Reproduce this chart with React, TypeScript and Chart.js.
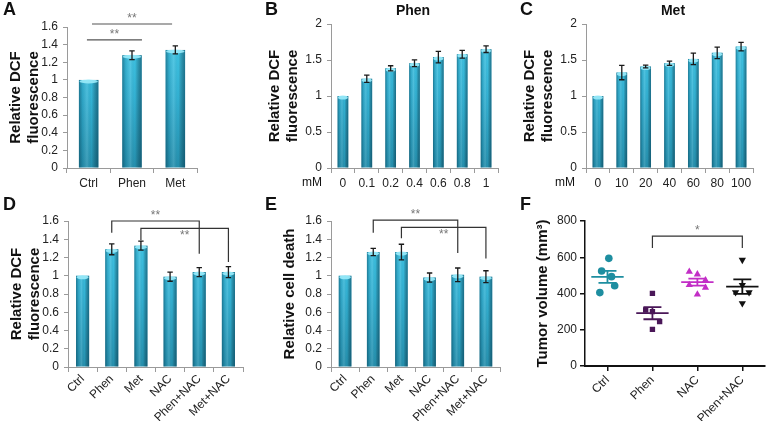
import React, { useEffect, useRef } from 'react';
import { Chart, registerables } from 'chart.js';
Chart.register(...registerables);

const FONT = "'Liberation Sans', Arial, Helvetica, sans-serif";
Chart.defaults.font.family = FONT;

// ---------- Data ----------
const aCategories = ['Ctrl', 'Phen', 'Met'];
const aValues = [1.0, 1.28, 1.34];
const aErrors = [0, 0.05, 0.045];

const bCategories = ['0', '0.1', '0.2', '0.4', '0.6', '0.8', '1'];
const bValues = [1.0, 1.24, 1.385, 1.455, 1.54, 1.58, 1.65];
const bErrors = [0, 0.05, 0.035, 0.046, 0.08, 0.053, 0.046];

const cCategories = ['0', '10', '20', '40', '60', '80', '100'];
const cValues = [1.0, 1.326, 1.41, 1.455, 1.515, 1.6, 1.686];
const cErrors = [0, 0.1, 0.02, 0.03, 0.08, 0.08, 0.06];

const dCategories = ['Ctrl', 'Phen', 'Met', 'NAC', 'Phen+NAC', 'Met+NAC'];
const dValues = [1.0, 1.29, 1.33, 0.99, 1.04, 1.04];
const dErrors = [0, 0.06, 0.05, 0.05, 0.05, 0.06];

const eCategories = ['Ctrl', 'Phen', 'Met', 'NAC', 'Phen+NAC', 'Met+NAC'];
const eValues = [1.0, 1.26, 1.26, 0.98, 1.01, 0.99];
const eErrors = [0, 0.04, 0.085, 0.05, 0.075, 0.065];

const fCategories = ['Ctrl', 'Phen', 'NAC', 'Phen+NAC'];
const fCtrl = [594, 524, 493, 443, 405];
const fCtrlJitter = [0.03, -0.13, 0.09, 0.16, -0.17];
const fPhen = [401, 309, 300, 245, 202];
const fPhenJitter = [0, -0.15, 0, 0.16, 0];
const fNac = [520, 506, 474, 447, 432, 395];
const fNacJitter = [-0.18, 0, 0.18, -0.18, 0.18, 0];
const fPhenNac = [585, 447, 407, 407, 346];
const fPhenNacJitter = [0, 0, -0.15, 0.15, 0];

// significance annotations (category index, value units)
type Sig = { from: number; to: number; y: number; leftDrop?: number; rightDrop?: number; label: string; above: boolean; color: string };
const aSigs: Sig[] = [
  { from: 0.077, to: 1.925, y: 1.634, label: '**', above: true, color: '#555' },
  { from: -0.04, to: 1.23, y: 1.453, label: '**', above: true, color: '#555' },
];
const dSigs: Sig[] = [
  { from: 1, to: 4, y: 1.6, leftDrop: 1.47, rightDrop: 1.24, label: '**', above: true, color: '#333' },
  { from: 2, to: 5, y: 1.52, leftDrop: 1.39, rightDrop: 1.15, label: '**', above: false, color: '#333' },
];
const eSigs: Sig[] = [
  { from: 1, to: 4, y: 1.61, leftDrop: 1.47, rightDrop: 1.25, label: '**', above: true, color: '#333' },
  { from: 2, to: 5, y: 1.53, leftDrop: 1.41, rightDrop: 1.19, label: '**', above: false, color: '#333' },
];
const fSigs: Sig[] = [
  { from: 1, to: 3, y: 717, leftDrop: 651, rightDrop: 651, label: '*', above: true, color: '#333' },
];

const BAR_PCT = 0.45;

function drawSigs(chart: any, sigs: Sig[]) {
  const ctx = chart.ctx;
  const xs = chart.scales.x;
  const ys = chart.scales.y;
  sigs.forEach((s) => {
    const x1 = xs.getPixelForValue(s.from);
    const x2 = xs.getPixelForValue(s.to);
    const y = ys.getPixelForValue(s.y);
    ctx.save();
    ctx.strokeStyle = s.color;
    ctx.lineWidth = 1.2;
    ctx.beginPath();
    if (s.leftDrop !== undefined) {
      ctx.moveTo(x1, ys.getPixelForValue(s.leftDrop));
      ctx.lineTo(x1, y);
    } else {
      ctx.moveTo(x1, y);
    }
    ctx.lineTo(x2, y);
    if (s.rightDrop !== undefined) ctx.lineTo(x2, ys.getPixelForValue(s.rightDrop));
    ctx.stroke();
    ctx.fillStyle = '#777';
    ctx.font = `12px ${FONT}`;
    ctx.textAlign = 'center';
    ctx.textBaseline = s.above ? 'bottom' : 'top';
    ctx.fillText(s.label, (x1 + x2) / 2, y + 1);
    ctx.restore();
  });
}

type Box = { left: number; top: number; width: number; height: number };
type Area = { l: number; t: number; r: number; b: number };

type BarProps = {
  box: Box;
  area: Area;
  cats: string[];
  values: number[];
  errors: number[];
  yMax: number;
  yStep: number;
  yTitle: string | string[];
  titlePad: number;
  sigs: Sig[];
  rotation: number;
};

function BarPanel(p: BarProps) {
  const ref = useRef<HTMLCanvasElement | null>(null);
  useEffect(() => {
    if (!ref.current) return;
    const { box, area } = p;
    const decor = {
      id: 'decor',
      afterDatasetsDraw(chart: any) {
        const ctx = chart.ctx;
        const ys = chart.scales.y;
        const meta = chart.getDatasetMeta(0);
        meta.data.forEach((bar: any, i: number) => {
          const { x, y, width, base } = bar.getProps(['x', 'y', 'width', 'base'], true);
          ctx.save();
          const g = ctx.createLinearGradient(x - width / 2, 0, x + width / 2, 0);
          g.addColorStop(0, 'rgba(0,45,65,0.45)');
          g.addColorStop(0.18, 'rgba(0,45,65,0.12)');
          g.addColorStop(0.42, 'rgba(255,255,255,0.12)');
          g.addColorStop(0.65, 'rgba(0,0,0,0)');
          g.addColorStop(1, 'rgba(0,40,60,0.5)');
          ctx.fillStyle = g;
          ctx.fillRect(x - width / 2, y, width, base - y);
          ctx.fillStyle = 'rgba(150,232,248,0.95)';
          ctx.beginPath();
          ctx.ellipse(x, y + 1.5, width / 2 - 0.5, 2, 0, 0, Math.PI * 2);
          ctx.fill();
          const e = p.errors[i];
          if (e > 0) {
            const v = p.values[i];
            const y1 = ys.getPixelForValue(v + e);
            const y2 = ys.getPixelForValue(v - e);
            ctx.strokeStyle = '#1a1a1a';
            ctx.lineWidth = 1.3;
            ctx.beginPath();
            ctx.moveTo(x, y1); ctx.lineTo(x, y2);
            ctx.moveTo(x - 2.7, y1); ctx.lineTo(x + 2.7, y1);
            ctx.moveTo(x - 2.7, y2); ctx.lineTo(x + 2.7, y2);
            ctx.stroke();
          }
          ctx.restore();
        });
        drawSigs(chart, p.sigs);
      },
    };
    const chart = new Chart(ref.current, {
      type: 'bar',
      data: {
        labels: p.cats,
        datasets: [
          {
            data: p.values,
            barPercentage: BAR_PCT,
            categoryPercentage: 1,
            borderWidth: 0,
            backgroundColor: (c: any) => {
              const ch = c.chart;
              const ca = ch.chartArea;
              if (!ca) return '#2eaecf';
              const g = ch.ctx.createLinearGradient(0, ca.top, 0, ca.bottom);
              g.addColorStop(0, '#44cbea');
              g.addColorStop(0.5, '#33b2d4');
              g.addColorStop(1, '#2590ae');
              return g;
            },
          },
        ],
      },
      options: {
        responsive: false,
        animation: false,
        devicePixelRatio: 1,
        layout: { padding: { left: 0, top: area.t, right: box.width - area.r, bottom: 0 } },
        plugins: { legend: { display: false }, tooltip: { enabled: false } },
        scales: {
          x: {
            type: 'category',
            grid: { display: true, drawOnChartArea: false, drawTicks: true, tickLength: 5, color: '#9a9a9a', offset: true },
            border: { color: '#9a9a9a' },
            ticks: {
              color: '#222',
              font: { size: 12, family: FONT },
              padding: p.rotation ? 0 : 3,
              maxRotation: p.rotation,
              minRotation: p.rotation,
              autoSkip: false,
            },
            afterFit: (s: any) => { s.height = box.height - area.b; },
          },
          y: {
            min: 0,
            max: p.yMax,
            ticks: {
              stepSize: p.yStep,
              color: '#222',
              font: { size: 12, family: FONT },
              padding: 5,
              callback: (v: any) => String(Math.round(Number(v) * 10) / 10),
            },
            grid: { drawOnChartArea: false, drawTicks: true, tickLength: 4, color: '#9a9a9a' },
            border: { color: '#9a9a9a' },
            title: {
              display: true,
              text: p.yTitle,
              color: '#111',
              font: { size: 15, weight: 'bold', family: FONT },
              padding: { top: p.titlePad, bottom: 0 },
            },
            afterFit: (s: any) => { s.width = area.l; },
          },
        },
      } as any,
      plugins: [decor],
    });
    return () => chart.destroy();
  }, []);
  const { box } = p;
  return (
    <canvas
      ref={ref}
      width={box.width}
      height={box.height}
      style={{ position: 'absolute', left: box.left, top: box.top, width: box.width, height: box.height, display: 'block' }}
    />
  );
}

function ScatterPanel() {
  const ref = useRef<HTMLCanvasElement | null>(null);
  const box: Box = { left: 505, top: 205, width: 264, height: 216 };
  const area: Area = { l: 80, t: 16, r: 262, b: 161 };
  useEffect(() => {
    if (!ref.current) return;
    const groups = [
      { values: fCtrl, jitter: fCtrlJitter, color: '#1e8ea0', style: 'circle', rot: 0, r: 3.8 },
      { values: fPhen, jitter: fPhenJitter, color: '#4a1758', style: 'rect', rot: 0, r: 3.8 },
      { values: fNac, jitter: fNacJitter, color: '#c22ec6', style: 'triangle', rot: 0, r: 4.2 },
      { values: fPhenNac, jitter: fPhenNacJitter, color: '#111111', style: 'triangle', rot: 180, r: 4.2 },
    ];
    const meanPlugin = {
      id: 'meanSem',
      afterDatasetsDraw(chart: any) {
        const ctx = chart.ctx;
        const xs = chart.scales.x;
        const ys = chart.scales.y;
        groups.forEach((g, gi) => {
          const n = g.values.length;
          const mean = g.values.reduce((a, b) => a + b, 0) / n;
          const sd = Math.sqrt(g.values.reduce((a, b) => a + (b - mean) * (b - mean), 0) / (n - 1));
          const sem = sd / Math.sqrt(n);
          const ym = ys.getPixelForValue(mean);
          const yh = ys.getPixelForValue(mean + sem);
          const yl = ys.getPixelForValue(mean - sem);
          ctx.save();
          ctx.strokeStyle = g.color;
          ctx.lineWidth = 1.8;
          ctx.beginPath();
          ctx.moveTo(xs.getPixelForValue(gi - 0.36), ym);
          ctx.lineTo(xs.getPixelForValue(gi + 0.36), ym);
          ctx.moveTo(xs.getPixelForValue(gi - 0.2), yh);
          ctx.lineTo(xs.getPixelForValue(gi + 0.2), yh);
          ctx.moveTo(xs.getPixelForValue(gi - 0.2), yl);
          ctx.lineTo(xs.getPixelForValue(gi + 0.2), yl);
          ctx.moveTo(xs.getPixelForValue(gi), yh);
          ctx.lineTo(xs.getPixelForValue(gi), yl);
          ctx.stroke();
          ctx.restore();
        });
        drawSigs(chart, fSigs);
      },
    };
    const chart = new Chart(ref.current, {
      type: 'scatter',
      data: {
        datasets: groups.map((g, gi) => ({
          data: g.values.map((v, k) => ({ x: gi + g.jitter[k], y: v })),
          pointStyle: g.style,
          pointRotation: g.rot,
          pointRadius: g.r,
          backgroundColor: g.color,
          borderColor: g.color,
          borderWidth: 0,
        })),
      },
      options: {
        responsive: false,
        animation: false,
        devicePixelRatio: 1,
        layout: { padding: { left: 0, top: area.t, right: box.width - area.r, bottom: 0 } },
        plugins: { legend: { display: false }, tooltip: { enabled: false } },
        scales: {
          x: {
            type: 'linear',
            min: -0.5,
            max: 3.5,
            afterBuildTicks: (s: any) => { s.ticks = fCategories.map((_, i) => ({ value: i })); },
            grid: { display: true, drawOnChartArea: false, drawTicks: true, tickLength: 5, color: '#111', lineWidth: 1.5 },
            border: { color: '#111', width: 2 },
            ticks: {
              color: '#222',
              font: { size: 12, family: FONT },
              padding: 2,
              maxRotation: 45,
              minRotation: 45,
              autoSkip: false,
              callback: (v: any) => fCategories[Math.round(Number(v))] ?? '',
            },
            afterFit: (s: any) => { s.height = box.height - area.b; },
          },
          y: {
            min: 0,
            max: 800,
            ticks: { stepSize: 200, color: '#222', font: { size: 12, family: FONT }, padding: 3 },
            grid: { drawOnChartArea: false, drawTicks: true, tickLength: 5, color: '#111', lineWidth: 1.5 },
            border: { color: '#111', width: 1.5 },
            title: {
              display: true,
              text: 'Tumor volume (mm³)',
              color: '#111',
              font: { size: 15, weight: 'bold', family: FONT },
              padding: { top: 29, bottom: 0 },
            },
            afterFit: (s: any) => { s.width = area.l; },
          },
        },
      } as any,
      plugins: [meanPlugin],
    });
    return () => chart.destroy();
  }, []);
  return (
    <canvas
      ref={ref}
      width={box.width}
      height={box.height}
      style={{ position: 'absolute', left: box.left, top: box.top, width: box.width, height: box.height, display: 'block' }}
    />
  );
}

function Label(props: { text: string; x: number; y: number; size: number; bold?: boolean; center?: boolean }) {
  return (
    <div
      style={{
        position: 'absolute',
        left: props.x,
        top: props.y,
        fontFamily: FONT,
        fontSize: props.size,
        fontWeight: props.bold ? 'bold' : 'normal',
        lineHeight: `${props.size}px`,
        color: '#111',
        whiteSpace: 'nowrap',
        transform: props.center ? 'translateX(-50%)' : undefined,
      }}
    >
      {props.text}
    </div>
  );
}

export default function App() {
  return (
    <div style={{ position: 'fixed', left: 0, top: 0, width: 769, height: 421, background: '#fff', overflow: 'hidden' }}>
      <BarPanel
        box={{ left: 0, top: 0, width: 250, height: 205 }}
        area={{ l: 67, t: 27, r: 197, b: 168 }}
        cats={aCategories} values={aValues} errors={aErrors}
        yMax={1.6} yStep={0.2} yTitle={['Relative DCF', 'fluorescence']} titlePad={7} sigs={aSigs} rotation={0}
      />
      <BarPanel
        box={{ left: 250, top: 0, width: 255, height: 205 }}
        area={{ l: 81, t: 24, r: 248, b: 168 }}
        cats={bCategories} values={bValues} errors={bErrors}
        yMax={2} yStep={0.5} yTitle={['Relative DCF', 'fluorescence']} titlePad={16} sigs={[]} rotation={0}
      />
      <BarPanel
        box={{ left: 505, top: 0, width: 264, height: 205 }}
        area={{ l: 81, t: 24, r: 248, b: 168 }}
        cats={cCategories} values={cValues} errors={cErrors}
        yMax={2} yStep={0.5} yTitle={['Relative DCF', 'fluorescence']} titlePad={16} sigs={[]} rotation={0}
      />
      <BarPanel
        box={{ left: 0, top: 205, width: 250, height: 216 }}
        area={{ l: 68, t: 16, r: 243, b: 162 }}
        cats={dCategories} values={dValues} errors={dErrors}
        yMax={1.6} yStep={0.2} yTitle={['Relative DCF', 'fluorescence']} titlePad={8} sigs={dSigs} rotation={45}
      />
      <BarPanel
        box={{ left: 250, top: 205, width: 255, height: 216 }}
        area={{ l: 81, t: 16, r: 250, b: 162 }}
        cats={eCategories} values={eValues} errors={eErrors}
        yMax={1.6} yStep={0.2} yTitle={'Relative cell death'} titlePad={31} sigs={eSigs} rotation={45}
      />
      <ScatterPanel />
      <Label text="A" x={3} y={0} size={18} bold />
      <Label text="B" x={265} y={0} size={18} bold />
      <Label text="C" x={520} y={0} size={18} bold />
      <Label text="D" x={3} y={195} size={18} bold />
      <Label text="E" x={265} y={195} size={18} bold />
      <Label text="F" x={520} y={195} size={18} bold />
      <Label text="Phen" x={413} y={3} size={14} bold center />
      <Label text="Met" x={673} y={3} size={14} bold center />
      <Label text="mM" x={312} y={176} size={12} center />
      <Label text="mM" x={565} y={176} size={12} center />
    </div>
  );
}
